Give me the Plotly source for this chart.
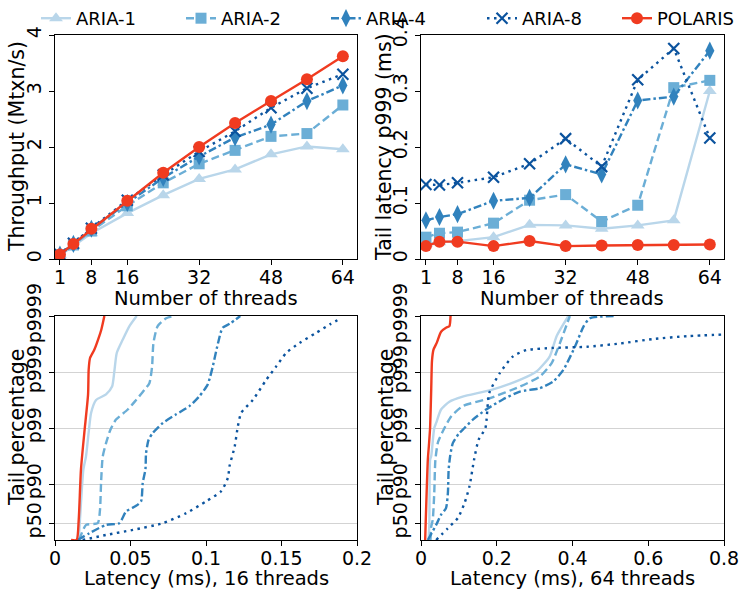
import plotly.graph_objects as go

# ---------------- data ----------------
threads = [1, 4, 8, 16, 24, 32, 40, 48, 56, 64]
series = ["ARIA-1", "ARIA-2", "ARIA-4", "ARIA-8", "POLARIS"]

tput_aria1 = [0.07, 0.23, 0.46, 0.82, 1.14, 1.43, 1.60, 1.87, 2.01, 1.96]
tput_aria2 = [0.07, 0.25, 0.50, 0.95, 1.36, 1.70, 1.94, 2.19, 2.24, 2.75]
tput_aria4 = [0.08, 0.27, 0.54, 1.00, 1.45, 1.83, 2.17, 2.40, 2.82, 3.10]
tput_aria8 = [0.08, 0.28, 0.55, 1.05, 1.50, 1.92, 2.28, 2.70, 3.05, 3.30]
tput_polaris = [0.08, 0.27, 0.54, 1.04, 1.54, 2.00, 2.43, 2.82, 3.21, 3.62]

p999_aria1 = [0.027, 0.030, 0.032, 0.039, 0.061, 0.060, 0.054, 0.060, 0.069, 0.300]
p999_aria2 = [0.039, 0.046, 0.048, 0.064, 0.105, 0.115, 0.067, 0.096, 0.306, 0.319]
p999_aria4 = [0.069, 0.075, 0.080, 0.104, 0.109, 0.169, 0.151, 0.283, 0.290, 0.372]
p999_aria8 = [0.133, 0.132, 0.136, 0.146, 0.170, 0.215, 0.165, 0.320, 0.376, 0.216]
p999_polaris = [0.023, 0.031, 0.031, 0.023, 0.032, 0.023, 0.024, 0.025, 0.025, 0.026]

# latency CDF tails; y is the number of nines, -log10(1 - p)
tail_ticks = [0.30103, 1, 2, 3, 4]
tail_labels = ["p50", "p90", "p99", "p999", "p9999"]

lat16_polaris_x = [0.0106, 0.0143, 0.0157, 0.0172, 0.0194, 0.0219, 0.0223, 0.0232, 0.0261, 0.0287, 0.0307, 0.0327]
lat16_polaris_y = [0, 0, 0.36, 1.26, 1.91, 2.6, 3.04, 3.25, 3.40, 3.59, 3.76, 4.0]
lat16_aria1_x = [0.0157, 0.0172, 0.0188, 0.0205, 0.0224, 0.0239, 0.0272, 0.0338, 0.0378, 0.0393, 0.0409, 0.0449, 0.0493, 0.0541]
lat16_aria1_y = [0, 0.66, 1.26, 1.49, 1.95, 2.27, 2.5, 2.6, 2.74, 3.01, 3.34, 3.58, 3.82, 4.0]
lat16_aria2_x = [0.016, 0.0206, 0.0283, 0.0298, 0.0305, 0.0316, 0.0338, 0.0367, 0.0404, 0.0482, 0.0537, 0.0592, 0.0625, 0.0643, 0.0652, 0.068, 0.0736, 0.079]
lat16_aria2_y = [0, 0.27, 0.30, 0.54, 1.02, 1.49, 1.73, 1.97, 2.15, 2.33, 2.5, 2.68, 2.8, 3.1, 3.52, 3.82, 3.96, 4.0]
lat16_aria4_x = [0.015, 0.0227, 0.0338, 0.0426, 0.0471, 0.0537, 0.057, 0.0581, 0.0599, 0.0603, 0.062, 0.0647, 0.0714, 0.080, 0.089, 0.0957, 0.101, 0.1028, 0.1045, 0.108, 0.111, 0.1156, 0.1227]
lat16_aria4_y = [0, 0.12, 0.27, 0.30, 0.51, 0.61, 0.69, 1.02, 1.26, 1.55, 1.79, 1.91, 2.09, 2.24, 2.39, 2.57, 2.77, 2.92, 3.10, 3.52, 3.79, 3.86, 4.0]
lat16_aria8_x = [0.0183, 0.0338, 0.0515, 0.0714, 0.0869, 0.100, 0.110, 0.1145, 0.1156, 0.119, 0.1211, 0.1233, 0.131, 0.1399, 0.1465, 0.1531, 0.162, 0.173, 0.182, 0.1896]
lat16_aria8_y = [0, 0.09, 0.18, 0.30, 0.48, 0.69, 0.87, 1.11, 1.32, 1.67, 2.03, 2.27, 2.5, 2.86, 3.10, 3.34, 3.52, 3.70, 3.85, 3.96]

lat64_polaris_x = [0.011, 0.018, 0.021, 0.024, 0.027, 0.029, 0.033, 0.0415, 0.053, 0.066, 0.075, 0.078]
lat64_polaris_y = [0, 1.43, 1.7, 2.0, 2.7, 3.2, 3.40, 3.52, 3.72, 3.79, 3.82, 4.0]
lat64_aria1_x = [0.020, 0.022, 0.024, 0.027, 0.035, 0.040, 0.053, 0.075, 0.110, 0.186, 0.261, 0.305, 0.340, 0.358, 0.389]
lat64_aria1_y = [0, 0.27, 1.43, 1.5, 2.0, 2.09, 2.33, 2.47, 2.56, 2.68, 2.86, 3.01, 3.28, 3.64, 4.0]
lat64_aria2_x = [0.025, 0.027, 0.031, 0.035, 0.038, 0.045, 0.062, 0.080, 0.110, 0.181, 0.261, 0.314, 0.345, 0.367, 0.393]
lat64_aria2_y = [0, 0.24, 0.36, 0.84, 1.43, 1.75, 2.0, 2.21, 2.39, 2.53, 2.74, 2.92, 3.16, 3.52, 4.0]
lat64_aria4_x = [0.018, 0.040, 0.053, 0.066, 0.071, 0.073, 0.077, 0.084, 0.100, 0.115, 0.137, 0.172, 0.216, 0.261, 0.313, 0.349, 0.376, 0.407, 0.429, 0.446, 0.517]
lat64_aria4_y = [0, 0.27, 0.45, 0.57, 0.84, 1.26, 1.5, 1.73, 1.9, 2.0, 2.15, 2.33, 2.51, 2.65, 2.71, 2.83, 3.04, 3.46, 3.81, 3.96, 4.0]
lat64_aria8_x = [0.040, 0.071, 0.097, 0.115, 0.128, 0.140, 0.152, 0.170, 0.180, 0.208, 0.243, 0.278, 0.349, 0.438, 0.526, 0.614, 0.703, 0.80]
lat64_aria8_y = [0, 0.21, 0.39, 0.66, 0.96, 1.43, 1.79, 2.0, 2.62, 2.98, 3.28, 3.39, 3.43, 3.45, 3.51, 3.59, 3.64, 3.67]

# ---------------- styles ----------------
colors = {"ARIA-1": "#b9d6ea", "ARIA-2": "#6baed6", "ARIA-4": "#3182bd",
          "ARIA-8": "#0b539e", "POLARIS": "#f03b20"}
dashes = {"ARIA-1": "solid", "ARIA-2": "8px,4px", "ARIA-4": "8px,3px,2.5px,3px",
          "ARIA-8": "2.5px,4.5px", "POLARIS": "solid"}
symbols = {"ARIA-1": "triangle-up", "ARIA-2": "square", "ARIA-4": "diamond-tall",
           "ARIA-8": "x-thin", "POLARIS": "circle"}
msize = {"ARIA-1": 12, "ARIA-2": 11, "ARIA-4": 13, "ARIA-8": 11, "POLARIS": 12}
legend_of = {"ARIA-1": "legend", "ARIA-2": "legend", "ARIA-4": "legend",
             "ARIA-8": "legend2", "POLARIS": "legend3"}
LW = 2.4

tput = dict(zip(series, [tput_aria1, tput_aria2, tput_aria4, tput_aria8, tput_polaris]))
p999 = dict(zip(series, [p999_aria1, p999_aria2, p999_aria4, p999_aria8, p999_polaris]))
lat16 = dict(zip(series, [(lat16_aria1_x, lat16_aria1_y), (lat16_aria2_x, lat16_aria2_y),
                          (lat16_aria4_x, lat16_aria4_y), (lat16_aria8_x, lat16_aria8_y),
                          (lat16_polaris_x, lat16_polaris_y)]))
lat64 = dict(zip(series, [(lat64_aria1_x, lat64_aria1_y), (lat64_aria2_x, lat64_aria2_y),
                          (lat64_aria4_x, lat64_aria4_y), (lat64_aria8_x, lat64_aria8_y),
                          (lat64_polaris_x, lat64_polaris_y)]))

fig = go.Figure()


def marker(s):
    m = dict(symbol=symbols[s], size=msize[s], color=colors[s])
    if s == "ARIA-8":
        m["line"] = dict(color=colors[s], width=2.2)
    else:
        m["line"] = dict(width=0)
    return m


for s in series:
    fig.add_trace(go.Scatter(x=threads, y=tput[s], name=s, mode="lines+markers",
                             line=dict(color=colors[s], width=LW, dash=dashes[s]),
                             marker=marker(s), xaxis="x", yaxis="y", showlegend=True,
                             legend=legend_of[s]))
for s in series:
    fig.add_trace(go.Scatter(x=threads, y=p999[s], name=s, mode="lines+markers",
                             line=dict(color=colors[s], width=LW, dash=dashes[s]),
                             marker=marker(s), xaxis="x2", yaxis="y2", showlegend=False))
for s in series:
    fig.add_trace(go.Scatter(x=lat16[s][0], y=lat16[s][1], name=s, mode="lines",
                             line=dict(color=colors[s], width=LW, dash=dashes[s], shape="spline", smoothing=0.6),
                             xaxis="x3", yaxis="y3", showlegend=False))
for s in series:
    fig.add_trace(go.Scatter(x=lat64[s][0], y=lat64[s][1], name=s, mode="lines",
                             line=dict(color=colors[s], width=LW, dash=dashes[s], shape="spline", smoothing=0.6),
                             xaxis="x4", yaxis="y4", showlegend=False))

W, H = 740, 596
LX = [55 / W, 357 / W]
RX = [421 / W, 724 / W]
TY = [1 - 259 / H, 1 - 35 / H]
BY = [1 - 540 / H, 1 - 316 / H]

FS = 19
axbase = dict(showline=True, linecolor="black", linewidth=1.3, mirror=True,
              ticks="outside", ticklen=5, tickwidth=1.3, tickcolor="black",
              showgrid=False, zeroline=False, automargin=False,
              tickfont=dict(size=FS, color="black"))
xbase = dict(axbase, ticklabelstandoff=-4)
ybase = dict(axbase, tickangle=-90)

legbase = dict(orientation="h", y=1.0, xanchor="left", yanchor="top",
               font=dict(size=18), entrywidth=100, bgcolor="rgba(0,0,0,0)",
               itemwidth=30, tracegroupgap=0)
LEG_OFF = 26

fig.update_layout(
    width=W, height=H, margin=dict(l=0, r=0, t=0, b=0, autoexpand=False),
    paper_bgcolor="white", plot_bgcolor="white",
    font=dict(family="DejaVu Sans", size=FS, color="black"),
    xaxis=dict(xbase, domain=LX, anchor="y", range=[-0.1, 67.15],
               tickvals=[1, 8, 16, 32, 48, 64]),
    yaxis=dict(ybase, domain=TY, anchor="x", range=[0, 4], tickvals=[0, 1, 2, 3, 4]),
    xaxis2=dict(xbase, domain=RX, anchor="y2", range=[-0.1, 67.15],
                tickvals=[1, 8, 16, 32, 48, 64]),
    yaxis2=dict(ybase, domain=TY, anchor="x2", range=[0, 0.4],
                tickvals=[0, 0.1, 0.2, 0.3, 0.4], ticktext=["0", "0.1", "0.2", "0.3", "0.4"]),
    xaxis3=dict(xbase, domain=LX, anchor="y3", range=[0, 0.2],
                tickvals=[0, 0.05, 0.1, 0.15, 0.2], ticktext=["0", "0.05", "0.1", "0.15", "0.2"]),
    yaxis3=dict(ybase, domain=BY, anchor="x3", range=[0, 4], tickvals=tail_ticks,
                ticktext=tail_labels, showgrid=True, gridcolor="#d3d3d3", gridwidth=1.2),
    xaxis4=dict(xbase, domain=RX, anchor="y4", range=[0, 0.8],
                tickvals=[0, 0.2, 0.4, 0.6, 0.8], ticktext=["0", "0.2", "0.4", "0.6", "0.8"]),
    yaxis4=dict(ybase, domain=BY, anchor="x4", range=[0, 4], tickvals=tail_ticks,
                ticktext=tail_labels, showgrid=True, gridcolor="#d3d3d3", gridwidth=1.2),
    legend=dict(legbase, x=(62 - LEG_OFF) / W),
    legend2=dict(legbase, x=(508 - LEG_OFF) / W),
    legend3=dict(orientation="h", y=1.0, x=1.0, xanchor="right", yanchor="top",
                 font=dict(size=18), bgcolor="rgba(0,0,0,0)", itemwidth=30),
)

titles = [
    dict(text="Throughput (Mtxn/s)", x=17, y=147, angle=-90, size=20.5),
    dict(text="Tail latency p999 (ms)", x=384, y=147, angle=-90, size=20.5),
    dict(text="Tail percentage", x=17, y=428, angle=-90, size=20.5),
    dict(text="Tail percentage", x=386, y=428, angle=-90, size=20.5),
    dict(text="Number of threads", x=206, y=298, angle=0, size=19.5),
    dict(text="Number of threads", x=572, y=298, angle=0, size=19.5),
    dict(text="Latency (ms), 16 threads", x=206, y=578, angle=0, size=19.5),
    dict(text="Latency (ms), 64 threads", x=572, y=578, angle=0, size=19.5),
]
for t in titles:
    fig.add_annotation(text=t["text"], x=t["x"] / W, y=1 - t["y"] / H, xref="paper", yref="paper",
                       xanchor="center", yanchor="middle", showarrow=False, textangle=t["angle"],
                       font=dict(size=t["size"], color="black"))

fig.write_html("out.html")
